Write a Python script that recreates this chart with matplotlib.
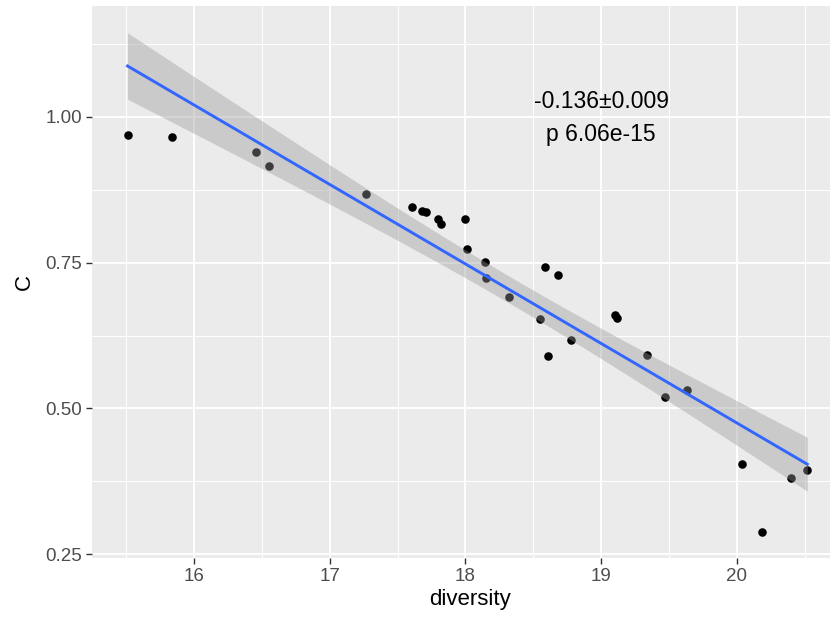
import numpy as np
import matplotlib.pyplot as plt

# Dados
diversity = [15.51, 15.84, 16.46, 16.55, 17.27, 17.61, 17.68, 17.71, 17.80, 17.82,
             18.00, 18.01, 18.145, 18.15, 18.32, 18.55, 18.59, 18.68, 18.78, 18.61,
             19.10, 19.12, 19.34, 19.47, 19.63, 20.04, 20.19, 20.40, 20.52]
C = [0.969, 0.965, 0.940, 0.916, 0.867, 0.845, 0.838, 0.837, 0.824, 0.817,
     0.824, 0.774, 0.751, 0.723, 0.691, 0.654, 0.743, 0.729, 0.617, 0.590,
     0.661, 0.655, 0.592, 0.520, 0.531, 0.404, 0.289, 0.380, 0.394]
x_ticks = [16, 17, 18, 19, 20]
y_ticks = [0.25, 0.50, 0.75, 1.00]
anotacao = ['-0.136\u00b10.009', 'p 6.06e-15']

plt.rcParams['font.family'] = ['Liberation Sans', 'DejaVu Sans']

x = np.array(diversity)
y = np.array(C)

# Ajuste linear (como geom_smooth(method='lm'))
n = len(x)
slope, intercept = np.polyfit(x, y, 1)
resid = y - (slope * x + intercept)
sigma = np.sqrt(np.sum(resid ** 2) / (n - 2))
sxx = np.sum((x - x.mean()) ** 2)
t_crit = 2.0518  # t(0.975, df=27)
xs = np.linspace(x.min(), x.max(), 80)
ys = slope * xs + intercept
se = sigma * np.sqrt(1 / n + (xs - x.mean()) ** 2 / sxx)

fig = plt.figure(figsize=(8.3, 6.17), dpi=100)
ax = fig.add_axes([92 / 830, 59 / 617, 755 / 830, 552 / 617])
ax.set_facecolor('#EBEBEB')

ax.scatter(x, y, s=38, color='black', linewidths=0, zorder=2)
ax.fill_between(xs, ys - t_crit * se, ys + t_crit * se, color='#999999', alpha=0.4,
                linewidth=0, zorder=3)
ax.plot(xs, ys, color='#3366FF', linewidth=2.1, zorder=4)

ax.text(19, 1.026, anotacao[0], ha='center', va='center', fontsize=16.5, color='black', zorder=5)
ax.text(19, 0.969, anotacao[1], ha='center', va='center', fontsize=16.5, color='black', zorder=5)

ax.set_xlim(15.248, 20.813)
ax.set_ylim(0.2437, 1.19)
ax.set_xticks(x_ticks)
ax.set_xticklabels([str(v) for v in x_ticks])
ax.set_yticks(y_ticks)
ax.set_yticklabels([f'{v:.2f}' for v in y_ticks])
ax.set_xticks([v + 0.5 for v in [15] + x_ticks], minor=True)
ax.set_yticks([0.375, 0.625, 0.875, 1.125], minor=True)

ax.grid(which='major', color='white', linewidth=1.4, zorder=0)
ax.grid(which='minor', color='white', linewidth=0.7, zorder=0)
ax.set_axisbelow(True)
for s in ax.spines.values():
    s.set_visible(False)

ax.tick_params(which='major', length=4, width=1, color='#333333', labelsize=13.5,
               labelcolor='#4D4D4D', pad=3)
ax.tick_params(which='minor', length=0)

ax.set_xlabel('diversity', fontsize=16, color='black', labelpad=3)
ax.set_ylabel('C', fontsize=16, color='black', labelpad=8)

fig.savefig('out.png', dpi=100)
